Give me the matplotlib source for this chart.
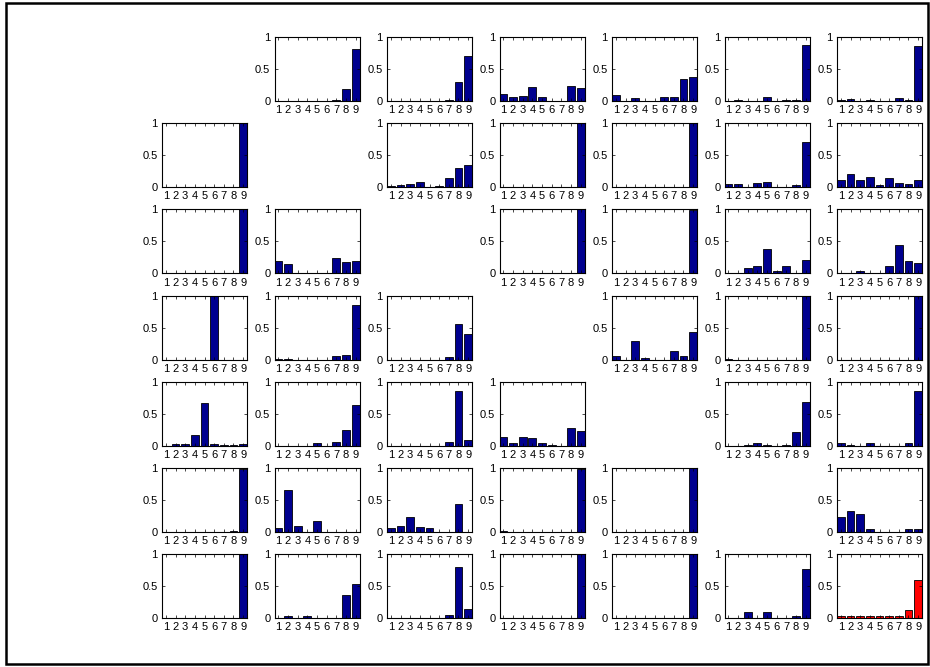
import numpy as np
import matplotlib.pyplot as plt
from matplotlib.patches import Rectangle

plt.rcParams['font.family'] = ['Liberation Sans', 'DejaVu Sans']

bins = [1, 2, 3, 4, 5, 6, 7, 8, 9]
yticks = [0, 0.5, 1]
ytick_labels = ['0', '0.5', '1']

# one list per grid row, None = empty cell
row0 = [None,
        [0, 0, 0, 0, 0, 0, 0.02, 0.18, 0.81],
        [0, 0, 0, 0, 0, 0, 0.02, 0.29, 0.70],
        [0.11, 0.07, 0.08, 0.22, 0.07, 0, 0, 0.23, 0.21],
        [0.09, 0, 0.04, 0, 0, 0.07, 0.06, 0.35, 0.37],
        [0, 0.02, 0, 0, 0.07, 0, 0.01, 0.02, 0.87],
        [0.01, 0.03, 0, 0.02, 0, 0, 0.05, 0.02, 0.86]]
row1 = [[0, 0, 0, 0, 0, 0, 0, 0, 1.0],
        None,
        [0.02, 0.04, 0.05, 0.08, 0.01, 0.02, 0.15, 0.30, 0.35],
        [0, 0, 0, 0, 0, 0, 0, 0, 1.0],
        [0, 0, 0, 0, 0, 0, 0, 0, 1.0],
        [0.05, 0.05, 0.01, 0.07, 0.08, 0, 0, 0.03, 0.71],
        [0.12, 0.21, 0.11, 0.16, 0.03, 0.15, 0.06, 0.05, 0.12]]
row2 = [[0, 0, 0, 0, 0, 0, 0, 0, 1.0],
        [0.20, 0.15, 0.01, 0.01, 0, 0, 0.24, 0.18, 0.19],
        None,
        [0, 0, 0, 0, 0, 0, 0, 0, 1.0],
        [0, 0, 0, 0, 0.01, 0, 0, 0, 0.99],
        [0.01, 0, 0.09, 0.11, 0.38, 0.03, 0.12, 0, 0.21],
        [0.01, 0, 0.04, 0, 0, 0.11, 0.44, 0.19, 0.16]]
row3 = [[0, 0, 0, 0, 0, 1.0, 0, 0, 0],
        [0.01, 0.01, 0, 0, 0, 0, 0.06, 0.07, 0.85],
        [0, 0, 0, 0, 0, 0, 0.04, 0.55, 0.40],
        None,
        [0.05, 0, 0.29, 0.03, 0, 0, 0.13, 0.06, 0.43],
        [0.01, 0, 0, 0, 0, 0, 0, 0, 0.99],
        [0, 0, 0, 0, 0, 0, 0, 0, 1.0]]
row4 = [[0, 0.03, 0.03, 0.17, 0.67, 0.03, 0.01, 0.02, 0.03],
        [0, 0, 0, 0, 0.05, 0, 0.06, 0.25, 0.64],
        [0, 0, 0, 0, 0, 0, 0.06, 0.85, 0.09],
        [0.14, 0.04, 0.14, 0.12, 0.04, 0.01, 0, 0.28, 0.23],
        None,
        [0, 0, 0.02, 0.04, 0.01, 0, 0.01, 0.22, 0.69],
        [0.04, 0.01, 0, 0.05, 0, 0, 0, 0.04, 0.85]]
row5 = [[0, 0, 0, 0, 0, 0, 0, 0.02, 0.98],
        [0.06, 0.65, 0.10, 0, 0.17, 0, 0, 0, 0],
        [0.06, 0.09, 0.24, 0.08, 0.07, 0, 0, 0.44, 0],
        [0.01, 0, 0, 0, 0, 0, 0, 0, 0.98],
        [0, 0, 0, 0, 0, 0, 0, 0, 1.0],
        None,
        [0.23, 0.33, 0.28, 0.05, 0, 0, 0, 0.05, 0.05]]
row6 = [[0, 0, 0, 0, 0, 0, 0, 0, 1.0],
        [0.01, 0.04, 0.01, 0.03, 0, 0, 0.01, 0.36, 0.53],
        [0, 0, 0, 0, 0, 0, 0.05, 0.80, 0.14],
        [0, 0, 0, 0, 0, 0, 0, 0, 1.0],
        [0, 0, 0, 0, 0, 0, 0, 0, 1.0],
        [0, 0, 0.09, 0, 0.09, 0, 0, 0.04, 0.77],
        [0.03, 0.04, 0.04, 0.03, 0.04, 0.03, 0.04, 0.13, 0.60]]
rows = [row0, row1, row2, row3, row4, row5, row6]

blue = (0, 0, 0.5625)
red = (1, 0, 0)

fig = plt.figure(figsize=(9.3, 6.67), dpi=100)

# outer frame
fig.patches.append(Rectangle((6 / 930, 3 / 667), 922 / 930, 661 / 667,
                             transform=fig.transFigure, fill=False,
                             edgecolor='black', linewidth=1.8))

left0, xstep, w = 162 / 930, 112.5 / 930, 85 / 930
top0, ystep, h = 1 - 37 / 667, 86.2 / 667, 64 / 667

for r, row in enumerate(rows):
    for c, vals in enumerate(row):
        if vals is None:
            continue
        ax = fig.add_axes([left0 + c * xstep, top0 - h - r * ystep, w, h])
        col = red if (r == 6 and c == 6) else blue
        ax.bar(bins, vals, width=0.8, color=col, edgecolor='black', linewidth=0.6)
        ax.set_xlim(0.6, 9.4)
        ax.set_ylim(0, 1)
        ax.set_xticks(bins)
        ax.set_yticks(yticks)
        ax.set_yticklabels(ytick_labels)
        ax.tick_params(direction='in', length=2, width=0.5, labelsize=8,
                       top=True, right=True)
        ax.tick_params(axis='x', pad=3)
        ax.tick_params(axis='y', pad=3)
        for s in ax.spines.values():
            s.set_linewidth(0.8)

plt.savefig('out.png')
